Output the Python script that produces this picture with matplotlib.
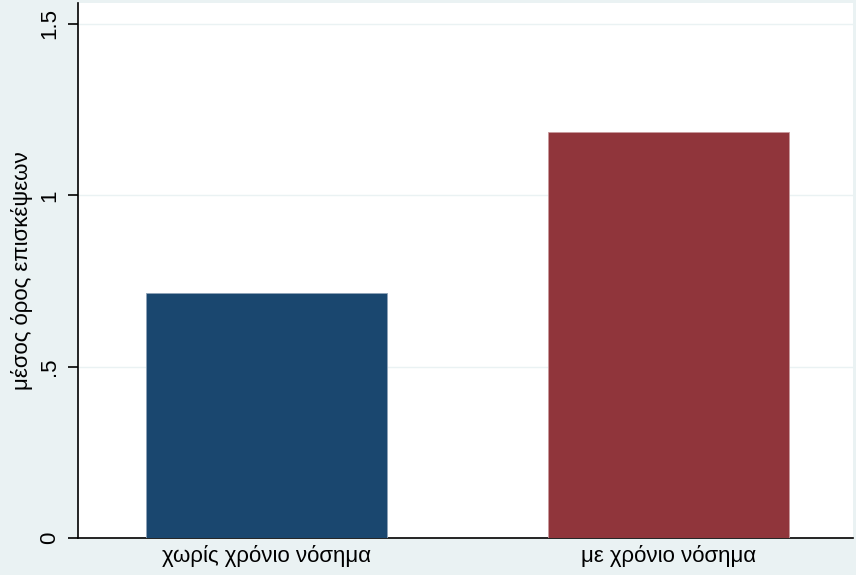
import numpy as np
import matplotlib.pyplot as plt

plt.rcParams['font.family'] = ['Liberation Sans', 'DejaVu Sans']

# data
groups = ["χωρίς χρόνιο νόσημα", "με χρόνιο νόσημα"]
mean_visits = [0.715, 1.184]
bar_colors = ["#1a476f", "#90353b"]
yticks = [0, 0.5, 1, 1.5]
ytick_labels = ["0", ".5", "1", "1.5"]

fig = plt.figure(figsize=(8.56, 5.75), dpi=100, facecolor="#eaf2f3")
ax = fig.add_axes([78 / 856, 37 / 575, 775 / 856, 535 / 575])
ax.set_facecolor("white")

x = np.arange(len(groups))
ax.bar(x, mean_visits, width=0.6, color=bar_colors, edgecolor=["#8fa3b8", "#c99a9d"],
       linewidth=0.6, zorder=3)

ax.set_xlim(-0.47, 1.46)
ax.set_ylim(0, 1.561)
ax.set_yticks(yticks)
ax.set_yticklabels(ytick_labels, rotation=90, va="center", fontsize=16)
ax.set_xticks(x)
ax.set_xticklabels(groups, fontsize=16)
ax.tick_params(axis="x", length=0, pad=5)
ax.tick_params(axis="y", length=7, width=1.2, pad=6)
ax.set_ylabel("μέσος όρος επισκέψεων", fontsize=16, labelpad=4)

for v in [0.5, 1.0, 1.5]:
    ax.axhline(v, color="#eaf2f3", linewidth=1, zorder=1)

for s in ["top", "right"]:
    ax.spines[s].set_visible(False)
ax.spines["left"].set_linewidth(1.2)
ax.spines["bottom"].set_linewidth(1.2)

fig.savefig("out.png", dpi=100, facecolor=fig.get_facecolor())
